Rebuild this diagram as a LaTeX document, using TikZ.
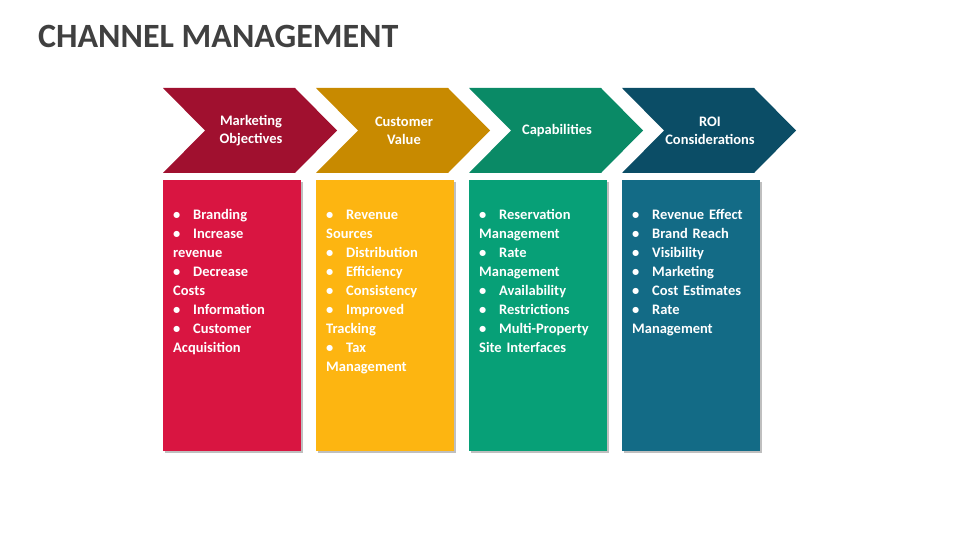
\documentclass[tikz,border=0pt]{standalone}
\usepackage{fontspec}
\setmainfont{Carlito}
\definecolor{c1d}{HTML}{A0102F}\definecolor{c1}{HTML}{D91541}
\definecolor{c2d}{HTML}{C88A00}\definecolor{c2}{HTML}{FDB511}
\definecolor{c3d}{HTML}{0A8A66}\definecolor{c3}{HTML}{07A077}
\definecolor{c4d}{HTML}{0B4D66}\definecolor{c4}{HTML}{136B86}
\definecolor{ttl}{HTML}{404040}
\newcommand\bitem[1]{\par\hangindent=20pt\hangafter=1\noindent\makebox[20pt][l]{\textbullet}#1}
\begin{document}
\begin{tikzpicture}[x=1pt,y=-1pt,
  head/.style={text=white,font=\bfseries\fontsize{14.5}{18}\selectfont,align=center},
  body/.style={text=white,font=\bfseries\fontsize{14.5}{19}\selectfont,anchor=north west,text width=120pt,inner sep=0pt}]
\useasboundingbox (0,0) rectangle (960,540);
\node[anchor=west,text=ttl,font=\bfseries\fontsize{34}{36}\selectfont,inner sep=0pt] (title) at (38,36) {CHANNEL MANAGEMENT};
\foreach \i/\cd/\c/\h in {0/c1d/c1/{Marketing\\Objectives},1/c2d/c2/{Customer\\Value},2/c3d/c3/{Capabilities},3/c4d/c4/{ROI\\Considerations}}{
  \pgfmathsetmacro\xo{163+153*\i}
  \fill[\cd] (\xo,88) -- (\xo+132,88) -- (\xo+174,130.5) -- (\xo+132,173) -- (\xo,173) -- (\xo+42,130.5) -- cycle;
  \node[head] (h\i) at (\xo+88,130.5) {\h};
  \fill[black!25] (\xo+2,182) rectangle (\xo+140,453);
  \fill[\c] (\xo,180) rectangle (\xo+138,451);
}
\node[body] (b0) at (173,200) {\bitem{Branding}\bitem{Increase\\revenue}\bitem{Decrease\\Costs}\bitem{Information}\bitem{Customer\\Acquisition}};
\node[body] (b1) at (326,200) {\bitem{Revenue\\Sources}\bitem{Distribution}\bitem{Efficiency}\bitem{Consistency}\bitem{Improved\\Tracking}\bitem{Tax\\Management}};
\node[body] (b2) at (479,200) {\bitem{Reservation\\Management}\bitem{Rate\\Management}\bitem{Availability}\bitem{Restrictions}\bitem{Multi-Property\\Site Interfaces}};
\node[body] (b3) at (632,200) {\bitem{Revenue Effect}\bitem{Brand Reach}\bitem{Visibility}\bitem{Marketing}\bitem{Cost Estimates}\bitem{Rate\\Management}};
\end{tikzpicture}
\end{document}
